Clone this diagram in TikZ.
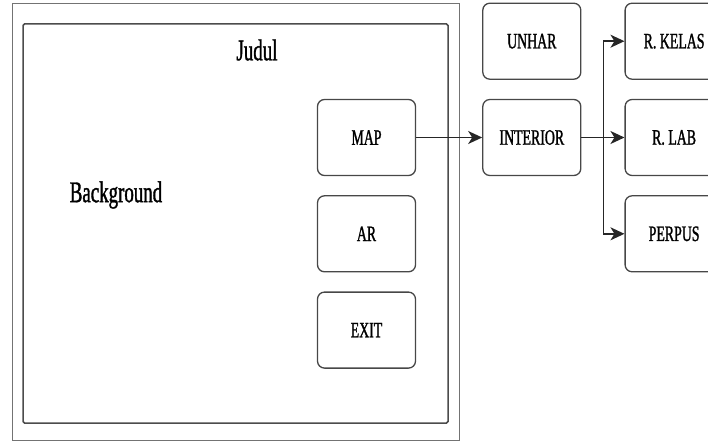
\documentclass[tikz,border=0pt]{standalone}
\usepackage{fontspec}
\setmainfont{Liberation Serif}[FakeStretch=0.63, FakeBold=1.2]
\usetikzlibrary{arrows.meta,positioning}

\begin{document}
\begin{tikzpicture}[x=1pt, y=1pt, node distance=19pt and 66pt,
  menu/.style={draw=black!72, line width=1.3pt, rounded corners=7pt, minimum width=98pt, minimum height=76pt, inner sep=0pt, font=\fontsize{22}{24}\selectfont},
  label/.style={inner sep=0pt, font=\fontsize{30}{32}\selectfont},
  link/.style={-{Stealth[length=14pt,width=13pt,inset=4pt]}, line width=1.6pt, black!85}]
\useasboundingbox (0,0) rectangle (708,-441);
\clip (0,0) rectangle (708,-441);
% ---------------- screen frame
\draw[black!55, line width=1pt] (12,-4) rectangle (459,-440);
\draw[black!70, line width=1.5pt, rounded corners=1.5pt] (23,-24) rectangle (448,-423);
\node[label] (judul) at (257,-50) {Judul};
\node[label] (bg) at (116,-195) {Background};
% ---------------- menu buttons
\node[menu] (map) at (366.5,-137.5) {MAP};
\node[menu, below=of map] (ar) {AR};
\node[menu, below=of ar] (exit) {EXIT};
% ---------------- map pages
\node[menu, right=of map] (interior) {INTERIOR};
\node[menu, above=of interior] (unhar) {UNHAR};
\node[menu, right=43pt of interior] (lab) {R. LAB};
\node[menu, above=of lab] (kelas) {R. KELAS};
\node[menu, below=of lab] (perpus) {PERPUS};
\draw[link] (map.east) -- (interior.west);
\draw[link] (interior.east) -- (lab.west);
\draw[link] (interior.east) -- ++(22,0) |- (kelas.west);
\draw[link] (interior.east) -- ++(22,0) |- (perpus.west);
\end{tikzpicture}
\end{document}
